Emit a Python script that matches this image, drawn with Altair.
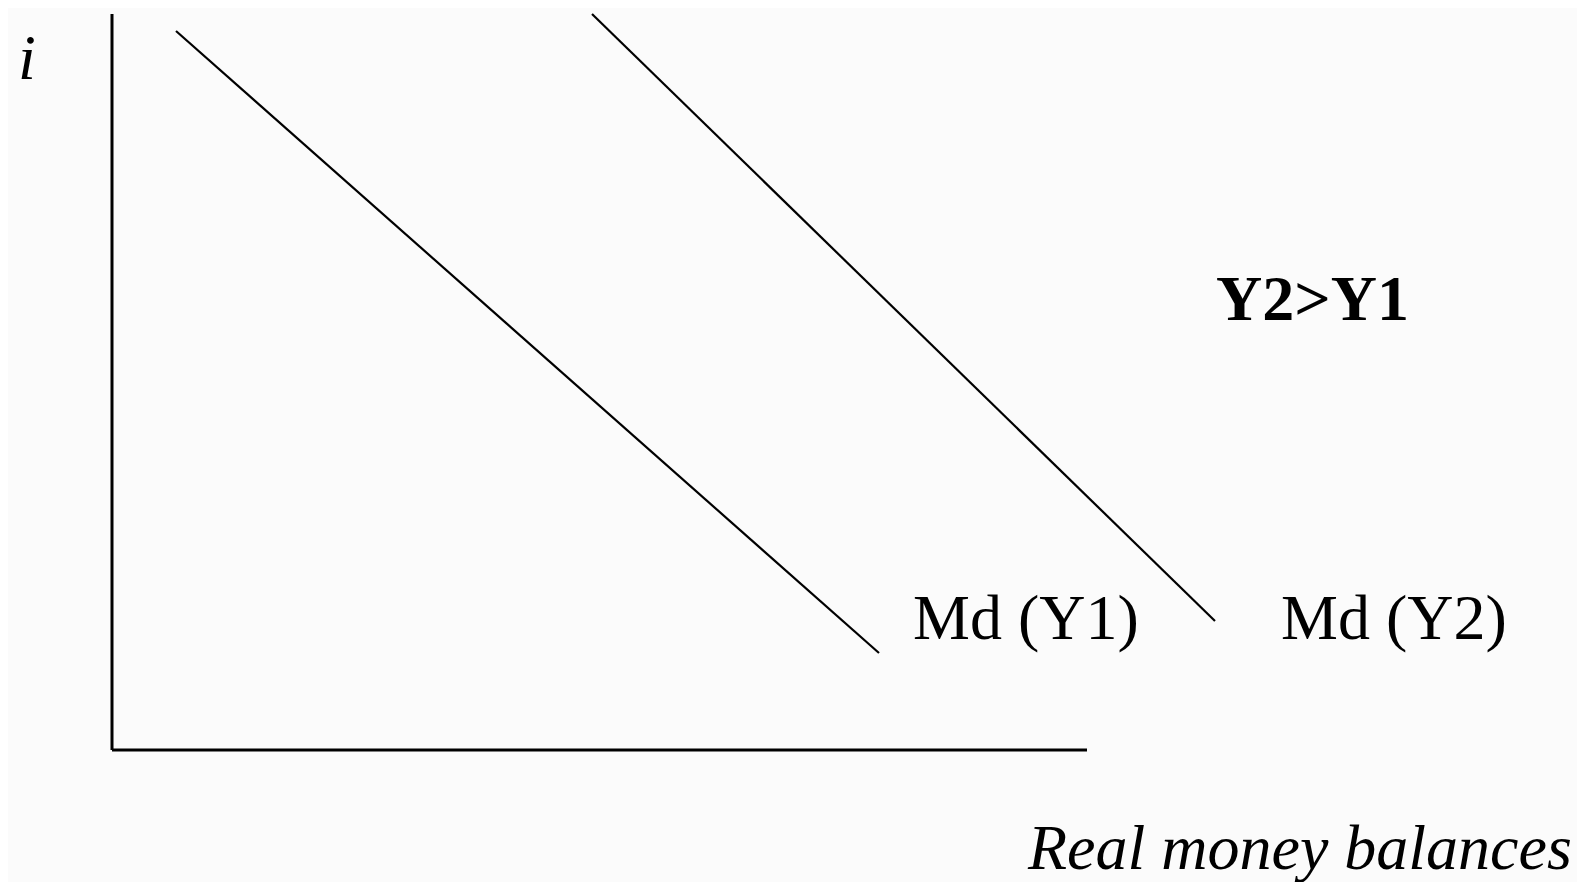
import altair as alt
import pandas as pd

# Diagram coordinates (origin at the axes corner, y up)
axis_x_end = 975
axis_y_end = 736

series = ["Md (Y1)", "Md (Y1)", "Md (Y2)", "Md (Y2)"]
line_x = [64, 767, 480, 1103]
line_y = [719, 97, 736, 129]

labels = ["i", "Y2>Y1", "Md (Y1)", "Md (Y2)", "Real money balances"]
label_x = [-94, 1104, 801, 1169, 916]
label_y = [671, 430, 111, 111, -119]
label_style = ["italic", "bold", "normal", "normal", "italic"]

X_DOMAIN = [-104, 1465]
Y_DOMAIN = [-132, 742]

xs = alt.Scale(domain=X_DOMAIN, nice=False, zero=False)
ys = alt.Scale(domain=Y_DOMAIN, nice=False, zero=False)

lines_df = pd.DataFrame({"series": series, "x": line_x, "y": line_y})
axes_df = pd.DataFrame({"x": [0, 0], "y": [0, 0], "x2": [0, axis_x_end], "y2": [axis_y_end, 0]})
lab_df = pd.DataFrame({"text": labels, "x": label_x, "y": label_y, "style": label_style})

FONT = "Times New Roman, Liberation Serif, serif"

axes = alt.Chart(axes_df).mark_rule(color="black", strokeWidth=3).encode(
    x=alt.X("x:Q", scale=xs, axis=None),
    y=alt.Y("y:Q", scale=ys, axis=None),
    x2="x2:Q",
    y2="y2:Q",
)

curves = alt.Chart(lines_df).mark_line(color="black", strokeWidth=2.2).encode(
    x=alt.X("x:Q", scale=xs, axis=None),
    y=alt.Y("y:Q", scale=ys, axis=None),
    detail="series:N",
)

def text_layer(style):
    d = lab_df[lab_df["style"] == style]
    kw = dict(align="left", baseline="alphabetic", fontSize=64, font=FONT, color="black")
    if style == "italic":
        kw["fontStyle"] = "italic"
    if style == "bold":
        kw["fontWeight"] = "bold"
    return alt.Chart(d).mark_text(**kw).encode(
        x=alt.X("x:Q", scale=xs, axis=None),
        y=alt.Y("y:Q", scale=ys, axis=None),
        text="text:N",
    )

chart = alt.layer(
    axes, curves, text_layer("italic"), text_layer("bold"), text_layer("normal")
).properties(
    width=1569, height=874, autosize="none", padding=0, background="#fbfbfb"
).configure_view(stroke=None)

chart.save("out.html", embed_options={"renderer": "svg", "actions": False})
